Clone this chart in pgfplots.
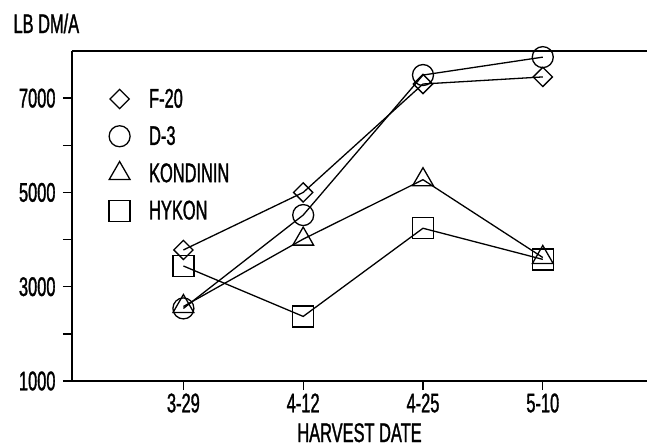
\documentclass[border=0pt]{standalone}
\usepackage{fontspec}
\setmainfont[FakeStretch=0.61, FakeBold=1.2]{Liberation Sans}
\usepackage{pgfplots}
\pgfplotsset{compat=1.18}
\newcommand{\bigf}{\fontsize{27}{31}\selectfont}
\begin{document}
\begin{tikzpicture}[font=\bigf]
\begin{axis}[
 name=ax,
 scale only axis, width=575bp, height=330bp,
 xmin=0.07, xmax=4.87, ymin=1000, ymax=8000,
 clip=false,
 axis lines=left, axis line style={-, line width=1.3bp},
 xtick={1,2,3,4}, xticklabels={3-29,4-12,4-25,5-10},
 ytick={1000,3000,5000,7000}, minor ytick={2000,4000,6000},
 tick align=outside, xtick align=outside, major tick length=9bp, minor tick length=9bp,
 tick style={line width=1.3bp, black},
 xtick style={line width=1.3bp, black},
 every tick label/.append style={font=\bigf},
 /pgf/number format/assume math mode=true,
 scaled y ticks=false, yticklabel style={/pgf/number format/1000 sep={}, xshift=-4bp},
 xlabel={HARVEST DATE},
 xlabel style={font=\bigf, at={(axis description cs:0.5,0)}, anchor=base, yshift=-61bp},
 ylabel={LB DM/A},
 ylabel style={font=\bigf, rotate=-90, at={(axis description cs:0,1)}, anchor=base west, xshift=-62bp, yshift=18bp},
 every axis plot/.append style={black, line width=1.3bp},
 legend style={font=\bigf, at={(axis description cs:0.059,0.898)}, anchor=north west, draw=none, fill=none, row sep=13bp,
   /tikz/every odd column/.append style={column sep=17bp}},
 legend cell align=left,
 legend image post style={only marks},
]
\draw[line width=1.3bp] (rel axis cs:0,1) -- (rel axis cs:1,1);
\addplot[mark=square, mark size=6.8bp, mark options={rotate=45}] coordinates {(1,3780) (2,5000) (3,7300) (4,7450)};
\addlegendentry{F-20}
\addplot[mark=o, mark size=10.5bp] coordinates {(1,2540) (2,4520) (3,7490) (4,7870)};
\addlegendentry{D-3}
\addplot[mark=triangle, mark size=12bp] coordinates {(1,2580) (2,4010) (3,5270) (4,3620)};
\addlegendentry{KONDININ}
\addplot[mark=square, mark size=10.5bp] coordinates {(1,3440) (2,2370) (3,4240) (4,3580)};
\addlegendentry{HYKON}
\end{axis}
\pgfresetboundingbox
\path[use as bounding box] ([shift={(-72bp,-67bp)}]ax.south west) rectangle ([shift={(0bp,51bp)}]ax.north east);
\end{tikzpicture}
\end{document}
